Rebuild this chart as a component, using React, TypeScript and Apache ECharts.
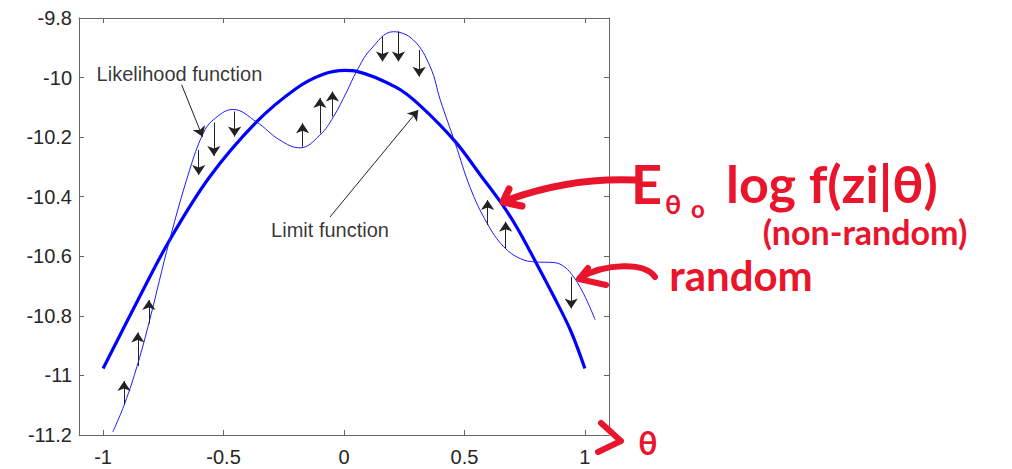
import React, { useEffect, useRef } from 'react';
import * as echarts from 'echarts';

// limit function (thick curve)
const limitX = [-1, -0.849, -0.724, -0.558, -0.363, -0.197, -0.086, 0.004, 0.053, 0.219, 0.316, 0.462, 0.566, 0.656, 0.719, 0.795, 0.871, 0.941, 1.0];
const limitY = [-10.977, -10.737, -10.546, -10.334, -10.149, -10.036, -9.989, -9.976, -9.979, -10.034, -10.094, -10.215, -10.327, -10.425, -10.505, -10.618, -10.735, -10.85, -10.977];

// likelihood function (thin curve)
const likeX = [-0.96, -0.911, -0.856, -0.807, -0.724, -0.641, -0.585, -0.544, -0.461, -0.363, -0.266, -0.183, -0.1, -0.044, 0.011, 0.053, 0.108, 0.205, 0.288, 0.358, 0.4, 0.462, 0.524, 0.594, 0.663, 0.732, 0.795, 0.871, 0.954, 1.042];
const likeY = [-11.19, -11.096, -10.961, -10.815, -10.546, -10.311, -10.188, -10.143, -10.107, -10.149, -10.21, -10.236, -10.193, -10.132, -10.048, -9.978, -9.908, -9.846, -9.874, -9.964, -10.076, -10.221, -10.37, -10.489, -10.568, -10.608, -10.619, -10.621, -10.67, -10.813];

// small vertical arrows from likelihood toward limit
const arrowX = [-0.913, -0.856, -0.81, -0.603, -0.54, -0.454, -0.172, -0.1, -0.048, 0.16, 0.226, 0.312, 0.596, 0.671, 0.943];
const arrowFrom = [-11.097, -10.968, -10.826, -10.243, -10.151, -10.114, -10.232, -10.187, -10.131, -9.862, -9.845, -9.907, -10.495, -10.573, -10.669];
const arrowTo = [-11.019, -10.856, -10.747, -10.327, -10.263, -10.198, -10.153, -10.069, -10.047, -9.946, -9.946, -9.997, -10.411, -10.484, -10.775];

// text annotations
const noteText = ['Likelihood function', 'Limit function'];
const noteX = [-0.683, -0.058];
const noteY = [-9.987, -10.512];
const pointerFrom = [[-0.674, -10.024], [-0.058, -10.468]];
const pointerTo = [[-0.587, -10.199], [0.308, -10.109]];

const xTicks = [-1, -0.5, 0, 0.5, 1];

const RED = '#e8152c';
const AX = '#666';
const FONT = '"Liberation Sans", Arial, sans-serif';

export default function App() {
  const ref = useRef<HTMLDivElement>(null);

  useEffect(() => {
    document.body.style.margin = '0';
    if (!ref.current) return;
    const chart = echarts.init(ref.current, null, { renderer: 'svg' });

    const xBase = {
      type: 'value', min: -1.1, max: 1.1,
      axisLine: { show: true, onZero: false, lineStyle: { color: AX, width: 1 } },
      axisTick: { show: true, inside: true, length: 5, customValues: xTicks, lineStyle: { color: AX } },
      splitLine: { show: false },
    };
    const yBase = {
      type: 'value', min: -11.2, max: -9.8, interval: 0.2,
      axisLine: { show: true, onZero: false, lineStyle: { color: AX, width: 1 } },
      axisTick: { show: true, inside: true, length: 5, lineStyle: { color: AX } },
      splitLine: { show: false },
    };

    const red = (extra: any) => ({ silent: true, z: 100, ...extra });
    const hand = { fill: RED, fontWeight: 'bold', fontFamily: 'Lato', verticalAlign: 'middle' };

    chart.setOption({
      animation: false,
      grid: { left: 79, top: 18, width: 530, height: 417 },
      xAxis: [
        { ...xBase, position: 'bottom',
          axisLabel: { customValues: xTicks, margin: 12, color: '#262626', fontSize: 20, fontFamily: FONT } },
        { ...xBase, position: 'top', axisLabel: { show: false } },
      ],
      yAxis: [
        { ...yBase, position: 'left',
          axisLabel: { margin: 7, color: '#262626', fontSize: 20, fontFamily: FONT } },
        { ...yBase, position: 'right', axisLabel: { show: false } },
      ],
      series: [
        {
          type: 'line', name: 'Limit function', silent: true, showSymbol: false, smooth: 0.35,
          data: limitX.map((x, i) => [x, limitY[i]]),
          lineStyle: { color: '#0000ff', width: 3.2 },
        },
        {
          type: 'line', name: 'Likelihood function', silent: true, showSymbol: false, smooth: 0.4,
          data: likeX.map((x, i) => [x, likeY[i]]),
          lineStyle: { color: '#1a1aff', width: 1 },
        },
        {
          type: 'lines', coordinateSystem: 'cartesian2d', silent: true, z: 5,
          symbol: ['none', 'arrow'], symbolSize: 10,
          lineStyle: { color: '#222', width: 1, opacity: 1 },
          data: arrowX.map((x, i) => ({ coords: [[x, arrowFrom[i]], [x, arrowTo[i]]] })),
        },
        {
          type: 'lines', coordinateSystem: 'cartesian2d', silent: true, z: 5,
          symbol: ['none', 'arrow'], symbolSize: 10,
          lineStyle: { color: '#222', width: 1, opacity: 1 },
          data: pointerFrom.map((p, i) => ({ coords: [p, pointerTo[i]] })),
        },
        {
          type: 'scatter', silent: true, symbolSize: 0,
          data: noteText.map((t, i) => ({ name: t, value: [noteX[i], noteY[i]] })),
          label: { show: true, position: 'inside', formatter: '{b}', color: '#000', fontSize: 20, fontFamily: FONT },
        },
      ],
      graphic: { elements: [
        // arrow to limit function
        red({ type: 'bezierCurve', shape: { x1: 636, y1: 180, cpx1: 590, cpy1: 178, cpx2: 545, cpy2: 186, x2: 505, y2: 201 },
          style: { stroke: RED, lineWidth: 7, lineCap: 'round', fill: 'none' } }),
        red({ type: 'polyline', shape: { points: [[509, 189], [503, 202], [522, 206]] },
          style: { stroke: RED, lineWidth: 7, lineCap: 'round', lineJoin: 'round', fill: 'none' } }),
        // arrow to likelihood
        red({ type: 'bezierCurve', shape: { x1: 655, y1: 277, cpx1: 645, cpy1: 262, cpx2: 605, cpy2: 263, x2: 580, y2: 278 },
          style: { stroke: RED, lineWidth: 6, lineCap: 'round', fill: 'none' } }),
        red({ type: 'polyline', shape: { points: [[588, 268], [579, 279], [606, 285]] },
          style: { stroke: RED, lineWidth: 6, lineCap: 'round', lineJoin: 'round', fill: 'none' } }),
        // theta axis mark
        red({ type: 'polyline', shape: { points: [[601, 423], [621, 441], [598, 452]] },
          style: { stroke: RED, lineWidth: 6, lineCap: 'round', lineJoin: 'round', fill: 'none' } }),
        red({ type: 'text', x: 648, y: 442, style: { ...hand, text: 'θ', fontSize: 32, align: 'center' } }),
        // handwritten texts
        red({ type: 'text', x: 631, y: 183, style: { ...hand, text: 'E', fontSize: 54, align: 'left' } }),
        red({ type: 'text', x: 665, y: 203, style: { ...hand, text: 'θ', fontSize: 27, align: 'left' } }),
        red({ type: 'text', x: 691, y: 208, style: { ...hand, text: 'o', fontSize: 24, align: 'left' } }),
        red({ type: 'text', x: 726, y: 183, style: { ...hand, text: 'log f(zi|θ)', fontSize: 52, align: 'left' } }),
        red({ type: 'text', x: 865, y: 231, style: { ...hand, text: '(non-random)', fontSize: 34, align: 'center' } }),
        red({ type: 'text', x: 741, y: 275, style: { ...hand, text: 'random', fontSize: 42, align: 'center' } }),
      ] },
    });

    return () => chart.dispose();
  }, []);

  return <div ref={ref} style={{ width: 1012, height: 469 }} />;
}
